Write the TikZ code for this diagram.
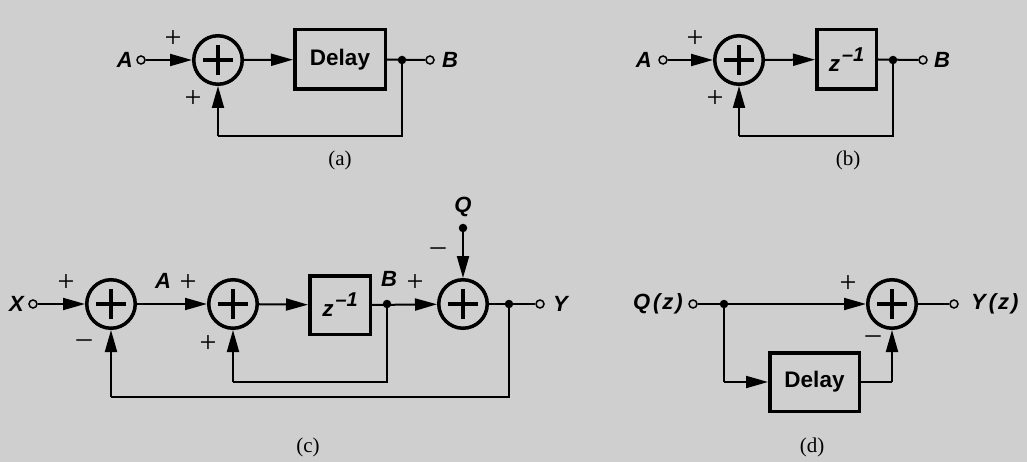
\documentclass[tikz,border=0pt]{standalone}
\usepackage{fontspec}
\setmainfont{Liberation Serif}
\newfontfamily\hv{Liberation Sans}
\usetikzlibrary{arrows.meta}
\definecolor{bg}{RGB}{207,207,207}
\tikzset{
  wire/.style={line width=2pt},
  arr/.style={wire,-{Triangle[length=22pt,width=12pt]}},
  sumnode/.style={circle,draw,line width=3.5pt,minimum size=48.5pt,inner sep=0pt,
    path picture={\draw[line width=3.5pt] (path picture bounding box.center) ++(-15pt,0) -- ++(30pt,0)
      (path picture bounding box.center) ++(0,-15pt) -- ++(0,30pt);}},
  blk/.style={rectangle,draw,line width=3.5pt,inner sep=0pt,font=\hv\bfseries\fontsize{22.5}{22.5}\selectfont},
  term/.style={circle,draw,fill=bg,line width=1.5pt,minimum size=8pt,inner sep=0pt},
  dotn/.style={circle,fill=black,minimum size=8.5pt,inner sep=0pt},
  lbl/.style={font=\hv\bfseries\itshape\fontsize{22}{22}\selectfont,inner sep=0pt},
  sgn/.style={font=\fontsize{30}{30}\selectfont,inner sep=0pt},
  captxt/.style={font=\fontsize{21}{21}\selectfont,inner sep=0pt},
}
\newcommand{\zinv}{\textit{z}\raisebox{10pt}{\fontsize{20}{20}\selectfont\kern2pt\textit{\textendash1}}}
\begin{document}
\begin{tikzpicture}[x=1pt,y=-1pt]
\fill[bg] (0,0) rectangle (1027,462);
\useasboundingbox (0,0) rectangle (1027,462);
% ---------- (a)
\node[lbl,anchor=east] (aA) at (133,60) {A};
\node[term] (aT) at (141,60) {};
\node[sumnode] (aS) at (218,60) {};
\node[blk,minimum width=90.5pt,minimum height=59.5pt] (aD) at (340,59.5) {Delay};
\node[dotn] (aP) at (402,60) {};
\node[term] (aO) at (430,60) {};
\node[lbl,anchor=west] (aB) at (442,60) {B};
\coordinate (aC1) at (402,136);
\coordinate (aC2) at (218,136);
\draw[arr] (aT) -- (aS);
\draw[arr] (aS) -- (aD);
\draw[wire] (aD.east) -- (aO.west);
\draw[wire] (aP.center) -- (aC1) -- (aC2);
\draw[arr] (aC2) -- (aS.south);
\node[sgn] (ap1) at (173,39) {+};
\node[sgn] (ap2) at (193,99) {+};
\node[captxt] (acap) at (340,160) {(a)};
% ---------- (b)
\node[lbl,anchor=east] (bA) at (652,60) {A};
\node[term] (bT) at (663,60) {};
\node[sumnode] (bS) at (739,60) {};
\node[blk,minimum width=59.5pt,minimum height=59.5pt] (bD) at (846.5,59.5) {\zinv};
\node[dotn] (bP) at (893,60) {};
\node[term] (bO) at (923,60) {};
\node[lbl,anchor=west] (bB) at (934,60) {B};
\coordinate (bC1) at (893,136);
\coordinate (bC2) at (739,136);
\draw[arr] (bT) -- (bS);
\draw[arr] (bS) -- (bD);
\draw[wire] (bD.east) -- (bO.west);
\draw[wire] (bP.center) -- (bC1) -- (bC2);
\draw[arr] (bC2) -- (bS.south);
\node[sgn] (bp1) at (695,39) {+};
\node[sgn] (bp2) at (715,99) {+};
\node[captxt] (bcap) at (848,160) {(b)};
% ---------- (c)
\node[lbl,anchor=east] (cX) at (24,304) {X};
\node[term] (cT) at (33,304) {};
\node[sumnode] (cS1) at (111,304) {};
\node[sumnode] (cS2) at (233,304) {};
\node[blk,minimum width=60.5pt,minimum height=58.5pt] (cD) at (340,305) {\zinv};
\node[dotn] (cP1) at (387,304) {};
\node[sumnode] (cS3) at (463,304) {};
\node[dotn] (cQd) at (463,228) {};
\node[lbl] (cQ) at (463,207) {Q};
\node[dotn] (cP2) at (509,304) {};
\node[term] (cO) at (540,304) {};
\node[lbl,anchor=west] (cY) at (553,304) {Y};
\node[lbl] (cAl) at (163,281) {A};
\node[lbl] (cBl) at (389,279) {B};
\coordinate (cI1) at (387,382);
\coordinate (cI2) at (233,382);
\coordinate (cO1) at (509,397);
\coordinate (cO2) at (111,397);
\draw[arr] (cT) -- (cS1);
\draw[arr] (cS1) -- (cS2);
\draw[arr] (cS2) -- (cD);
\draw[arr] (cD.east) -- (cS3);
\draw[arr] (cQd.center) -- (cS3.north);
\draw[wire] (cS3) -- (cO.west);
\draw[wire] (cP1.center) -- (cI1) -- (cI2);
\draw[arr] (cI2) -- (cS2.south);
\draw[wire] (cP2.center) -- (cO1) -- (cO2);
\draw[arr] (cO2) -- (cS1.south);
\node[sgn] (cp1) at (66,283) {+};
\node[sgn] (cp2) at (188,283) {+};
\node[sgn] (cp3) at (415,283) {+};
\node[sgn] (cm1) at (438,252) {\textendash};
\node[sgn] (cm2) at (84,344) {\textendash};
\node[sgn] (cp4) at (208,344) {+};
\node[captxt] (ccap) at (308,447) {(c)};
% ---------- (d)
\node[lbl,anchor=east] (dQ) at (683,304) {Q\kern3pt(\kern2pt z\kern2pt)};
\node[term] (dT) at (693,304) {};
\node[dotn] (dP) at (724,304) {};
\node[sumnode] (dS) at (892,304) {};
\node[term] (dO) at (954,304) {};
\node[lbl,anchor=west] (dY) at (971,304) {Y\kern3pt(\kern2pt z\kern2pt)};
\node[blk,minimum width=89.5pt,minimum height=58.5pt] (dD) at (814.5,382) {Delay};
\coordinate (dB1) at (724,382);
\coordinate (dB2) at (892,382);
\draw[wire] (dT) -- (dP.center);
\draw[arr] (dP.center) -- (dS);
\draw[wire] (dS) -- (dO);
\draw[wire] (dP.center) -- (dB1);
\draw[arr] (dB1) -- (dD.west);
\draw[wire] (dD.east) -- (dB2);
\draw[arr] (dB2) -- (dS.south);
\node[sgn] (dp1) at (848,284) {+};
\node[sgn] (dm1) at (873,340) {\textendash};
\node[captxt] (dcap) at (812,447) {(d)};
\end{tikzpicture}
\end{document}
